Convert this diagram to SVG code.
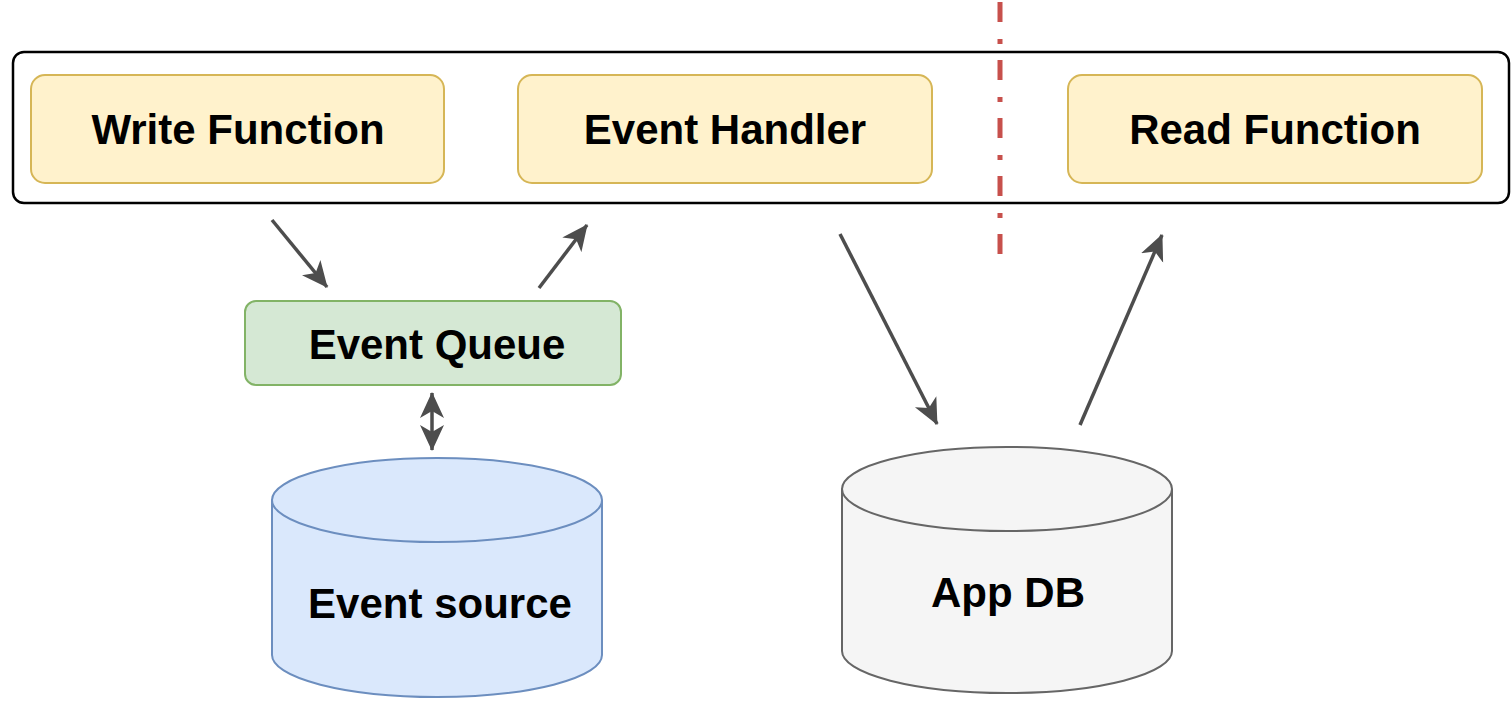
<svg xmlns="http://www.w3.org/2000/svg" width="1511" height="705" viewBox="0 0 1511 705">
  <defs>
    <style>
      .lbl { font-family: "Liberation Sans", Arial, Helvetica, sans-serif; font-weight: bold; font-size: 42px; fill: #000; text-anchor: middle; }
      .fn { fill: #fff2cc; stroke: #d6b656; stroke-width: 2; }
      .conn { stroke: #4d4d4d; stroke-width: 3.5; fill: none; }
    </style>
    <marker id="ah" viewBox="0 0 26 26" refX="25" refY="13" markerWidth="26" markerHeight="26" markerUnits="userSpaceOnUse" orient="auto-start-reverse">
      <path d="M0,1 L26,13 L0,25 L7,13 z" fill="#4d4d4d"/>
    </marker>
  </defs>
  <rect width="1511" height="705" fill="#ffffff"/>

  <g id="container">
    <rect x="13" y="52" width="1496" height="151" rx="11" fill="#ffffff" stroke="#000000" stroke-width="2.5"/>
  </g>

  <g id="write-function">
    <rect class="fn" x="31" y="75" width="413" height="108" rx="14"/>
    <text class="lbl" x="238" y="144">Write Function</text>
  </g>
  <g id="event-handler">
    <rect class="fn" x="518" y="75" width="414" height="108" rx="14"/>
    <text class="lbl" x="725" y="144">Event Handler</text>
  </g>
  <g id="read-function">
    <rect class="fn" x="1068" y="75" width="414" height="108" rx="14"/>
    <text class="lbl" x="1275" y="144">Read Function</text>
  </g>

  <g id="divider">
    <line x1="1000" y1="2" x2="1000" y2="257" stroke="#c7504c" stroke-width="5" stroke-dasharray="20 17 5 16"/>
  </g>

  <g id="event-queue">
    <rect x="245" y="301" width="376" height="84" rx="11" fill="#d5e8d4" stroke="#82b366" stroke-width="2"/>
    <text class="lbl" x="437" y="359">Event Queue</text>
  </g>

  <g id="event-source">
    <path d="M272,500 A165,42 0 0 1 602,500 L602,655 A165,42 0 0 1 272,655 Z" fill="#dae8fc" stroke="#6c8ebf" stroke-width="2"/>
    <path d="M272,500 A165,42 0 0 0 602,500" fill="none" stroke="#6c8ebf" stroke-width="2"/>
    <text class="lbl" x="440" y="618">Event source</text>
  </g>

  <g id="app-db">
    <path d="M842,489 A165,42 0 0 1 1172,489 L1172,651 A165,42 0 0 1 842,651 Z" fill="#f5f5f5" stroke="#666666" stroke-width="2"/>
    <path d="M842,489 A165,42 0 0 0 1172,489" fill="none" stroke="#666666" stroke-width="2"/>
    <text class="lbl" x="1008" y="607">App DB</text>
  </g>

  <g id="connectors">
    <line class="conn" x1="272" y1="220" x2="327" y2="287" marker-end="url(#ah)"/>
    <line class="conn" x1="539" y1="288" x2="587" y2="225" marker-end="url(#ah)"/>
    <line class="conn" x1="432" y1="393" x2="432" y2="450" marker-start="url(#ah)" marker-end="url(#ah)"/>
    <line class="conn" x1="840" y1="234" x2="937" y2="424" marker-end="url(#ah)"/>
    <line class="conn" x1="1080" y1="425" x2="1162" y2="235" marker-end="url(#ah)"/>
  </g>
</svg>
